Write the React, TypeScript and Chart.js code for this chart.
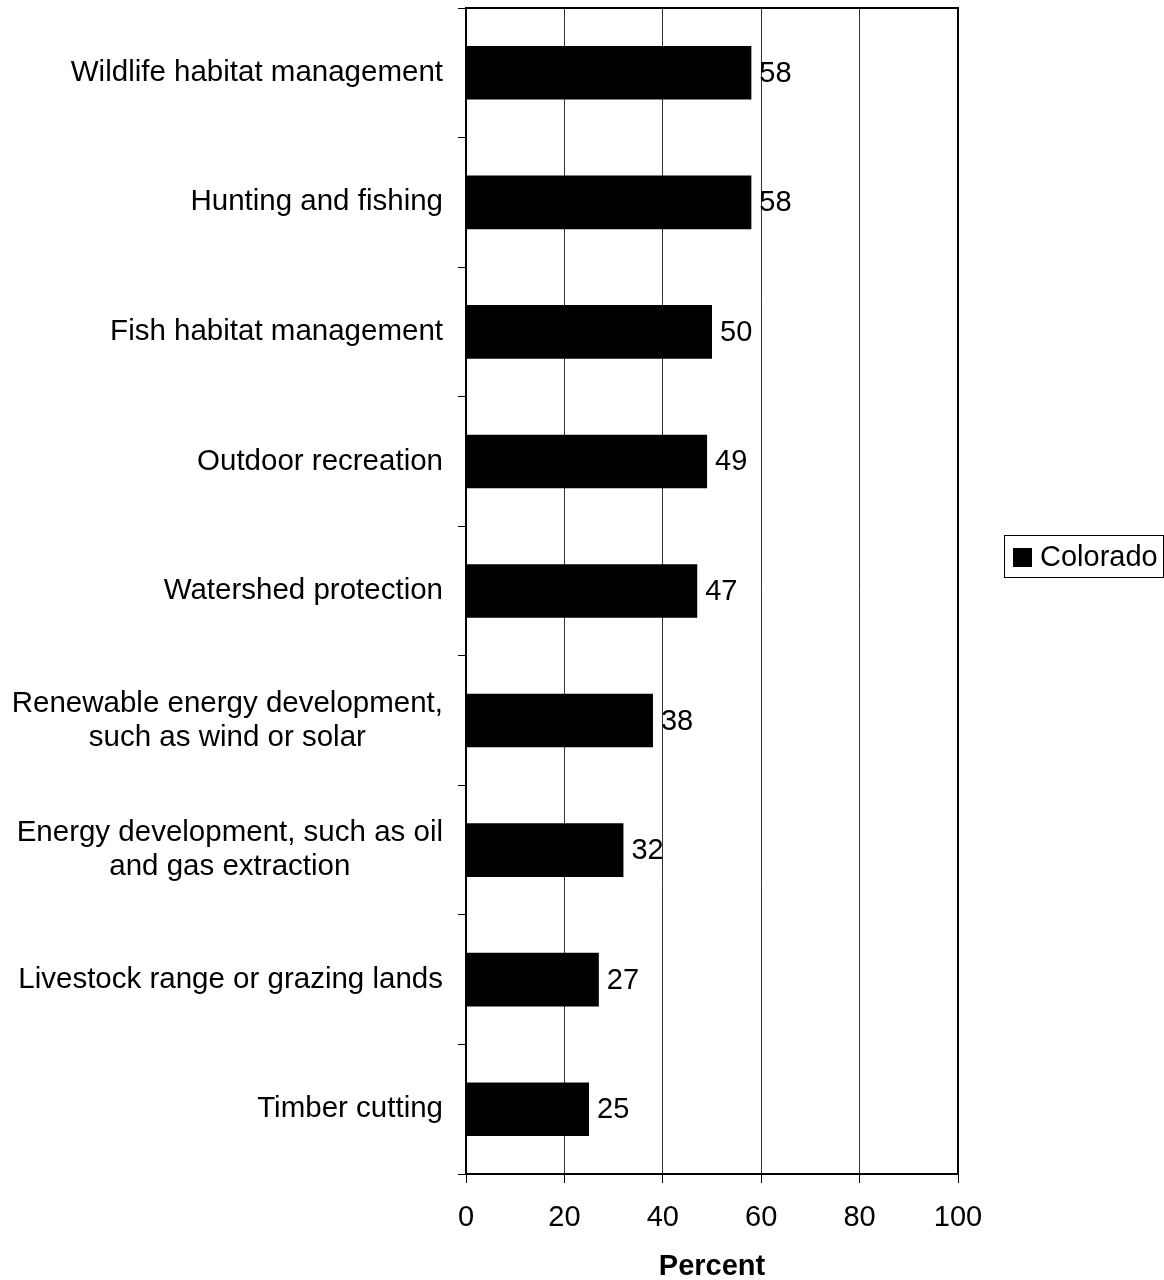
import React, { useEffect, useRef } from 'react';
import { Chart, registerables } from 'chart.js';

Chart.register(...registerables);

const categories: (string | string[])[] = [
  'Wildlife habitat management',
  'Hunting and fishing',
  'Fish habitat management',
  'Outdoor recreation',
  'Watershed protection',
  ['Renewable energy development,', 'such as wind or solar'],
  ['Energy development, such as oil', 'and gas extraction'],
  'Livestock range or grazing lands',
  'Timber cutting',
];
const coloradoValues = [58, 58, 50, 49, 47, 38, 32, 27, 25];
const seriesName = 'Colorado';
const xMin = 0;
const xMax = 100;
const xStep = 20;
const axisTitle = 'Percent';

const FONT = '"Liberation Sans", Arial, Helvetica, sans-serif';

const customPlugin = {
  id: 'customDecor',
  afterDraw(chart: any) {
    const ctx = chart.ctx as CanvasRenderingContext2D;
    const { left, right, top, bottom } = chart.chartArea;
    ctx.save();
    // top and right border of plot area
    ctx.strokeStyle = '#000';
    ctx.lineWidth = 2;
    ctx.beginPath();
    ctx.moveTo(left - 1, top);
    ctx.lineTo(right, top);
    ctx.lineTo(right, bottom + 1);
    ctx.stroke();

    // category labels (block right-aligned, lines centered)
    const yScale = chart.scales.y;
    ctx.font = `29.5px ${FONT}`;
    ctx.fillStyle = '#000';
    ctx.textBaseline = 'middle';
    ctx.textAlign = 'center';
    const lineH = 34;
    (chart.data.labels as (string | string[])[]).forEach((lab, i) => {
      const lines = Array.isArray(lab) ? lab : [lab];
      const maxW = Math.max(...lines.map((l) => ctx.measureText(l).width));
      const cx = left - 23 - maxW / 2;
      const cy = yScale.getPixelForValue(i);
      lines.forEach((l, j) => {
        ctx.fillText(l, cx, cy + (j - (lines.length - 1) / 2) * lineH);
      });
    });

    // data labels
    ctx.font = `29px ${FONT}`;
    const meta = chart.getDatasetMeta(0);
    ctx.textAlign = 'left';
    meta.data.forEach((el: any, i: number) => {
      ctx.fillText(String(chart.data.datasets[0].data[i]), el.x + 8, el.y + 1);
    });

    // legend
    const ds = chart.data.datasets[0];
    ctx.lineWidth = 1;
    ctx.strokeStyle = '#000';
    ctx.strokeRect(1004.5, 535.5, 159, 42);
    ctx.fillStyle = ds.backgroundColor;
    ctx.fillRect(1013, 548, 19, 19);
    ctx.fillStyle = '#000';
    ctx.textAlign = 'left';
    ctx.fillText(ds.label, 1040, 558);
    ctx.restore();
  },
};

export default function App() {
  const canvasRef = useRef<HTMLCanvasElement | null>(null);

  useEffect(() => {
    if (!canvasRef.current) return;
    const chart = new Chart(canvasRef.current, {
      type: 'bar',
      data: {
        labels: categories as any,
        datasets: [
          {
            label: seriesName,
            data: coloradoValues,
            backgroundColor: '#000000',
            borderWidth: 0,
            barPercentage: 0.414,
            categoryPercentage: 1,
          },
        ],
      },
      options: {
        indexAxis: 'y',
        responsive: false,
        animation: false,
        devicePixelRatio: 1,
        layout: { padding: { top: 8, right: 206, left: 0, bottom: 0 } },
        plugins: {
          legend: { display: false },
          tooltip: { enabled: false },
          title: { display: false },
        },
        scales: {
          x: {
            type: 'linear',
            min: xMin,
            max: xMax,
            position: 'bottom',
            afterFit: (scale: any) => {
              scale.height = 106;
            },
            ticks: {
              stepSize: xStep,
              color: '#000',
              font: { family: FONT, size: 29 },
              padding: 18,
            },
            grid: {
              color: '#333333',
              lineWidth: 1,
              drawTicks: true,
              tickLength: 9,
              tickColor: '#000',
            },
            border: { display: true, color: '#000', width: 2 },
            title: {
              display: true,
              text: axisTitle,
              color: '#000',
              font: { family: FONT, size: 29, weight: 'bold', lineHeight: 0.9 },
              padding: { top: 0, bottom: 0 },
            },
          },
          y: {
            type: 'category',
            position: 'left',
            afterFit: (scale: any) => {
              scale.width = 466;
            },
            ticks: { display: false },
            grid: {
              offset: true,
              drawOnChartArea: false,
              drawTicks: true,
              tickLength: 8,
              color: '#000',
              tickColor: '#000',
              lineWidth: 1,
            },
            border: { display: true, color: '#000', width: 2 },
          },
        },
      },
      plugins: [customPlugin],
    } as any);
    return () => chart.destroy();
  }, []);

  return (
    <div style={{ position: 'absolute', left: 0, top: 0, width: 1164, height: 1280, background: '#fff' }}>
      <canvas ref={canvasRef} width={1164} height={1280} style={{ display: 'block' }} />
    </div>
  );
}
